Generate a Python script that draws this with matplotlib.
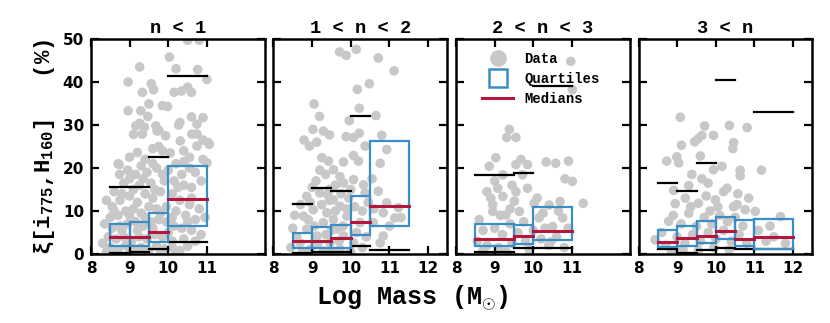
import numpy as np
import matplotlib
matplotlib.use('Agg')
import matplotlib.pylab as plt
from matplotlib.patches import Rectangle
from matplotlib.lines import Line2D

plt.rcParams['mathtext.fontset'] = 'custom'
plt.rcParams['mathtext.rm'] = 'Liberation Mono:bold'
plt.rcParams['mathtext.it'] = 'Liberation Mono:bold'
plt.rcParams['mathtext.bf'] = 'Liberation Mono:bold'

titles = ['n < 1', '1 < n < 2', '2 < n < 3', '3 < n']
xtick_sets = [[8, 9, 10, 11], [8, 9, 10, 11, 12], [8, 9, 10, 11], [8, 9, 10, 11, 12]]

# galaxies per Sersic bin: (log mass, xi %)
pts_1 = [(9.26,43.5),(8.96,40.0),(8.96,33.3),(9.29,33.3),(9.56,39.6),(9.33,37.6),(9.62,38.2),(9.5,34.9),
         (9.47,32.0),(10.03,45.8),(10.2,43.1),(10.76,42.9),(11.0,40.6),(10.5,38.8),(10.34,37.9),(10.6,37.6),
         (10.15,37.6),(9.98,34.3),(9.85,34.5),(10.3,30.6),(10.6,31.9),(10.9,31.7),(10.74,27.9),(10.9,26.5),
         (11.06,25.5),(11.0,21.2),(9.26,30.4),(9.38,29.5),(9.68,29.8),(9.76,28.7),(9.1,27.8),(8.7,21.0),
         (8.74,18.5),(10.5,49.7),(10.8,49.7),(9.16,29.8),(9.33,27.9),(9.71,28.6),(9.93,27.5),(10.27,30.0),
         (10.61,27.9),(10.74,30.2),(11.04,25.9),(10.74,25.1),(10.31,26.3),(9.2,23.6),(8.73,20.8),
         (9.6,24.5),(9.75,25.0),(9.85,24.0),(10.05,23.5),(10.4,24.0),(10.55,22.5),(10.2,21.0),(9.4,22.0),
         (9.0,22.5),(8.95,19.5),(9.15,18.5),(9.45,19.0),(9.7,20.0),(10.0,19.5),(10.35,18.5),(10.7,19.0),
         (10.85,17.0),(10.6,15.5),(10.4,16.0),(9.9,17.0),(9.55,16.5),(9.25,16.0),(8.85,16.5),(8.6,14.5),
         (8.4,12.5),(8.55,11.0),(8.75,12.5),(9.0,13.5),(9.2,12.0),(9.4,14.0),(9.6,13.0),(9.8,14.5),
         (10.1,14.0),(10.3,12.5),(10.55,11.5),(10.8,10.5),(10.95,8.5),(10.7,8.0),(10.45,9.0),(10.2,10.0),
         (9.95,11.0),(9.7,10.5),(9.5,11.0),(9.3,9.5),(9.1,10.5),(8.9,10.0),(8.7,9.0),(8.5,8.5),(8.35,7.0),
         (8.55,6.0),(8.75,6.5),(8.95,7.0),(9.15,7.5),(9.35,6.5),(9.55,7.5),(9.75,8.0),(9.95,7.5),(10.15,6.5),
         (10.35,6.0),(10.6,5.5),(10.85,4.5),(10.7,3.0),(10.4,3.5),(10.1,3.0),(9.85,4.0),(9.65,4.5),(9.45,3.5),
         (9.25,4.0),(9.05,3.0),(8.85,4.0),(8.65,3.5),(8.45,4.0),(8.3,2.5),(8.5,1.5),(8.7,1.0),(8.9,2.0),
         (9.1,1.2),(9.3,1.5),(9.5,0.8),(9.7,1.8),(9.9,1.2),(10.1,1.5),(10.3,0.8),(10.5,1.8),(8.4,0.5),
         (8.6,0.3),(9.0,0.5),(9.4,0.4),(9.8,0.5),(10.2,0.3),(8.8,5.5),(9.2,5.5),(9.6,6.0),(10.0,5.0),
         (10.5,7.5),(9.4,8.5),(9.0,9.0),(8.6,10.0),(9.8,9.5),(10.1,8.5),(10.6,13.0),(10.25,15.5),(9.65,15.0),
         (9.1,15.0),(8.8,14.0),(9.35,17.5),(9.85,18.5),(10.15,17.0),(10.55,20.0),(10.9,22.0),(10.4,21.5),
         (9.6,21.0),(9.3,20.5),(9.0,17.5)]
pts_2 = [(9.71,47.0),(9.88,46.2),(10.14,47.6),(10.71,45.6),(11.12,42.6),(10.48,39.6),(10.17,38.3),(9.05,34.9),
         (10.22,33.9),(9.19,32.0),(9.96,31.0),(10.65,32.2),(9.02,29.0),(9.29,28.6),(9.45,27.7),(8.79,26.5),
         (9.12,26.0),(8.93,25.1),(9.88,27.3),(10.07,27.1),(10.22,28.1),(10.8,27.6),(10.37,25.1),(10.93,24.3),
         (10.07,22.9),(9.25,22.4),(9.42,21.6),(9.81,21.4),(10.2,21.6),(10.76,21.1),(9.55,19.6),(9.72,18.0),
         (10.07,17.3),(10.33,16.1),(9.81,16.5),(10.37,14.2),(10.71,14.6),(10.93,11.9),(11.23,10.8),(11.14,8.4),
         (10.84,9.6),(10.58,7.3),(10.84,4.2),(10.76,2.6),(8.86,13.4),(9.2,14.2),(9.55,12.6),(9.03,10.3),
         (8.78,8.8),(9.38,9.6),(9.72,11.1),(9.9,8.8),(9.29,7.3),(8.86,5.8),(9.64,5.8),(10.24,7.3),(9.12,4.2),
         (9.81,4.2),(8.69,2.6),(9.46,2.6),(10.07,2.6),(8.95,1.1),(9.72,1.1),(9.29,0.7),(9.1,17.0),(9.35,18.5),
         (9.6,16.0),(9.0,15.5),(8.7,11.5),(8.55,9.0),(8.5,6.0),(8.6,4.0),(8.45,1.5),(8.75,0.5),(9.45,15.0),
         (9.75,14.0),(9.95,13.0),(10.1,11.0),(10.3,10.0),(10.15,5.0),(10.4,4.0),(10.3,1.5),(10.0,0.5),
         (9.5,0.4),(9.15,2.5),(9.35,4.5),(9.55,8.0),(9.8,6.5),(9.05,6.5),(8.9,8.0),(9.25,11.5),(9.6,10.0),
         (9.45,12.5),(9.9,10.5),(10.0,15.0),(9.2,19.5),(9.4,13.8),(8.95,12.0),(9.7,3.0),(9.5,5.5),(10.45,12.0),
         (10.6,10.5),(10.55,17.5),(11.0,6.5),(11.3,8.5)]
pts_3 = [(10.97,44.8),(11.01,38.2),(9.38,29.0),(9.31,27.1),(9.55,27.1),(9.03,22.4),(8.86,20.4),(9.21,18.4),
         (9.55,20.8),(9.68,22.0),(9.85,20.8),(9.72,18.4),(10.33,21.4),(10.58,21.1),(10.91,21.6),(10.82,17.5),
         (11.01,16.9),(9.08,15.3),(8.9,13.0),(9.21,13.4),(9.51,12.3),(9.85,15.3),(10.02,11.8),(10.41,11.4),
         (10.69,12.2),(11.29,11.8),(9.29,9.1),(8.95,9.9),(9.64,9.9),(10.15,8.4),(10.76,8.4),(10.5,6.4),
         (8.6,8.0),(8.7,5.5),(8.55,3.0),(8.8,2.0),(9.0,6.0),(9.2,4.5),(9.4,7.0),(9.6,5.0),(9.8,3.0),(9.1,1.5),
         (9.45,2.5),(9.75,7.5),(10.0,5.5),(10.2,3.5),(10.4,2.0),(10.6,4.0),(10.8,1.5),(10.3,6.0),(9.9,1.0),
         (9.3,0.5),(8.7,0.8),(8.95,11.5),(9.4,10.5),(9.15,9.0),(10.1,13.0),(10.25,9.5),(10.65,10.0),(10.9,6.0),
         (9.55,14.5),(9.0,17.0),(9.45,16.0),(8.8,14.5),(10.45,2.8)]
pts_4 = [(9.08,31.8),(9.71,29.8),(10.35,29.9),(10.81,29.4),(9.64,27.6),(9.94,27.6),(9.54,26.8),(9.45,26.1),
         (10.46,25.9),(10.44,24.5),(9.11,25.3),(8.99,22.6),(8.73,21.6),(9.04,21.2),(9.6,22.8),(10.16,20.4),
         (9.94,19.6),(10.63,19.5),(10.63,18.2),(11.18,19.5),(9.38,18.5),(9.64,17.5),(9.8,16.5),(9.3,15.9),
         (8.91,14.8),(10.29,15.3),(10.2,14.5),(10.57,14.0),(9.21,13.0),(8.95,11.7),(9.55,11.8),(9.99,12.6),
         (10.46,11.0),(11.02,9.9),(10.76,10.3),(11.67,8.7),(8.78,7.6),(8.43,3.3),(11.5,4.0),(11.8,2.5),
         (8.6,5.0),(8.7,2.0),(8.9,9.0),(9.1,7.0),(9.3,9.5),(9.5,6.5),(9.7,8.5),(9.9,7.0),(10.1,9.0),(10.3,7.5),
         (10.5,8.5),(10.7,6.5),(9.0,4.0),(9.2,2.5),(9.4,4.5),(9.6,3.0),(9.8,5.0),(10.0,3.5),(10.2,5.5),
         (10.4,3.0),(10.6,4.5),(10.8,2.5),(9.15,1.0),(9.55,0.8),(9.95,1.5),(10.35,1.0),(8.85,0.5),(11.1,5.5),
         (11.3,3.0),(11.4,6.5),(9.75,13.5),(10.05,11.0),(9.35,11.0),(10.85,13.0),(9.85,10.0),(10.55,11.5)]
points = [pts_1, pts_2, pts_3, pts_4]

# galaxies above 50 %, shown as arrows at the top
over_1 = [8.79, 8.87, 9.43, 9.95, 10.03, 10.16, 10.24, 11.32]
over_2 = [9.03, 9.1, 10.71, 10.84, 10.93, 10.97]
over_3 = [10.76, 10.84, 10.93, 10.97]
over_4 = [10.03, 10.12, 10.2, 10.29, 10.37, 10.75, 10.83, 10.92, 11.02, 11.09]
overs = [over_1, over_2, over_3, over_4]

# mass bins and statistics
edges = [[8.5, 9, 9.5, 10, 11],
         [8.5, 9, 9.5, 10, 10.5, 11.5],
         [8.5, 9.5, 10, 11],
         [8.5, 9, 9.5, 10, 10.5, 11, 12]]
q25 = [[1.9, 1.9, 2.8, 6.6], [1.5, 1.4, 1.5, 4.4, 6.4], [1.8, 2.3, 3.2], [1.7, 1.8, 2.5, 3.6, 1.8, 1.2]]
q75 = [[6.9, 7.4, 9.6, 20.4], [4.8, 6.3, 6.7, 13.6, 26.3], [7.0, 6.7, 11.0], [5.6, 6.6, 7.6, 8.5, 7.8, 8.2]]
med = [[3.9, 3.9, 5.2, 12.8], [3.0, 3.0, 3.8, 7.5, 11.2], [3.6, 4.1, 5.3], [2.9, 3.7, 4.3, 5.3, 3.5, 4.0]]
p05 = [[0.2, 0.4, 1.1, 2.8], [0.3, 0.5, 0.5, 1.8, 1.0], [0.5, 1.5, 1.5], [1.2, 0.3, 0.9, 1.3, 1.2, 1.2]]
p95 = [[15.7, 15.7, 22.6, 41.3], [11.6, 15.3, 14.6, 32.0, np.nan], [18.3, 18.9, 39.0],
       [16.4, 14.6, 21.1, 40.5, np.nan, 33.0]]

grey = '#c8c8c8'
blue = '#3a8ec6'
red = '#b3173c'
mono = 'Liberation Mono'

fig = plt.figure(figsize=(8.3, 3.23), dpi=100)
lefts = [0.1096, 0.3295, 0.5494, 0.7693]

for i in range(4):
    ax = fig.add_axes([lefts[i], 0.2136, 0.2096, 0.6656])
    xy = np.array(points[i])
    ax.scatter(xy[:, 0], xy[:, 1], s=48, color=grey, edgecolors='none', zorder=1)
    for xo in overs[i]:
        ax.annotate('', xy=(xo, 50.3), xytext=(xo, 47.3),
                    arrowprops=dict(arrowstyle='->', lw=0.7, color='k', mutation_scale=6))
    e = edges[i]
    for j in range(len(e) - 1):
        ax.add_patch(Rectangle((e[j], q25[i][j]), e[j+1] - e[j], q75[i][j] - q25[i][j],
                               fill=False, edgecolor=blue, lw=1.6, zorder=3))
        ax.plot([e[j], e[j+1]], [med[i][j]] * 2, color=red, lw=2.2, zorder=4)
        ax.plot([e[j], e[j+1]], [p05[i][j]] * 2, color='k', lw=1.6, zorder=2)
        if not np.isnan(p95[i][j]):
            ax.plot([e[j], e[j+1]], [p95[i][j]] * 2, color='k', lw=1.6, zorder=2)

    ax.set_xlim(8, 12.5)
    ax.set_ylim(0, 50)
    ax.set_xticks(xtick_sets[i])
    ax.set_yticks(np.arange(0, 51, 10))
    ax.tick_params(direction='in', length=6, width=1.6, top=True, right=True,
                   labelsize=11, pad=5)
    for lab in ax.get_xticklabels() + ax.get_yticklabels():
        lab.set_fontweight('bold')
    if i > 0:
        ax.set_yticklabels([])
    for sp in ax.spines.values():
        sp.set_linewidth(1.8)
    ax.set_title(titles[i], fontfamily=mono, fontweight='bold', fontsize=13.5, pad=4)

    if i == 0:
        ax.set_ylabel('ξ[i$_{775}$,H$_{160}$]   (%)', fontfamily=mono, fontweight='bold',
                      fontsize=16, labelpad=4)
    if i == 2:
        handles = [Line2D([], [], marker='o', ls='none', color=grey, ms=11),
                   Line2D([], [], marker='s', ls='none', mfc='none', mec=blue, mew=1.8, ms=13),
                   Line2D([], [], color=red, lw=2.2)]
        ax.legend(handles, ['Data', 'Quartiles', 'Medians'], loc='upper left',
                  bbox_to_anchor=(0.08, 1.0), frameon=False, handlelength=2.2,
                  labelspacing=0.45, prop={'family': mono, 'weight': 'bold', 'size': 10})

fig.text(0.497, 0.075, r'Log Mass (M$_{\odot}$)', fontfamily=mono, fontweight='bold',
         fontsize=18, ha='center', va='center')

plt.savefig('out.png', dpi=100)
